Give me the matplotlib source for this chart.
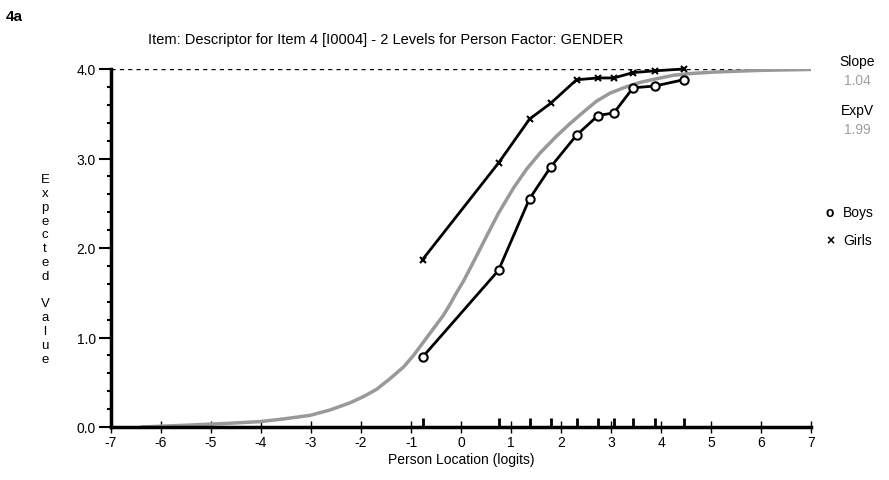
import numpy as np
import matplotlib
matplotlib.use('Agg')
import matplotlib.pyplot as plt

plt.rcParams['font.family'] = ['Liberation Sans', 'DejaVu Sans']

# class interval means (logits), shared by both groups
class_x = [-0.77, 0.75, 1.37, 1.80, 2.31, 2.74, 3.06, 3.44, 3.88, 4.45]
boys_y = [0.78, 1.75, 2.55, 2.91, 3.26, 3.48, 3.51, 3.79, 3.81, 3.88]
girls_y = [1.87, 2.95, 3.44, 3.62, 3.88, 3.90, 3.90, 3.96, 3.98, 4.00]

# expected value curve
icc_x = [-6.4, -5.5, -4.69, -4.02, -3.55, -3.02, -2.62, -2.22, -1.95, -1.69,
         -1.42, -1.15, -0.95, -0.75, -0.55, -0.35, -0.22, -0.09, 0.05, 0.18,
         0.31, 0.51, 0.75, 1.05, 1.31, 1.58, 1.91, 2.18, 2.45, 2.71,
         2.98, 3.3, 3.58, 3.9, 4.25, 4.6, 5.05, 5.5, 6.0, 6.5, 7.0]
icc_y = [0.0, 0.02, 0.04, 0.06, 0.09, 0.13, 0.19, 0.27, 0.34, 0.42,
         0.54, 0.67, 0.80, 0.95, 1.10, 1.25, 1.37, 1.50, 1.63, 1.77,
         1.91, 2.13, 2.39, 2.67, 2.88, 3.06, 3.25, 3.39, 3.52, 3.64,
         3.73, 3.80, 3.85, 3.89, 3.93, 3.95, 3.965, 3.975, 3.985, 3.99, 3.995]

slope = "1.04"
expv = "1.99"
title = "Item: Descriptor for Item 4 [I0004] - 2 Levels for Person Factor: GENDER"

fig = plt.figure(figsize=(8.89, 4.81), dpi=100)
ax = fig.add_axes([111/889, 53/481, 700/889, 358/481])

ax.plot(icc_x, icc_y, color='#999999', lw=2.5, zorder=2, solid_capstyle='butt')
ax.plot(class_x, girls_y, color='black', lw=2, marker='x', ms=5, mew=1.5,
        zorder=3, clip_on=False)
ax.plot(class_x, boys_y, color='black', lw=2, marker='o', ms=6, mfc='white',
        mew=1.5, zorder=3, clip_on=False)
ax.axhline(4.0, color='black', lw=1, ls=(0, (3, 3)), zorder=1)

# rug of class interval locations
ax.vlines(class_x, 0, 0.1, color='black', lw=2, zorder=3)

ax.set_xlim(-7, 7)
ax.set_ylim(0, 4.0)
ax.spines['top'].set_visible(False)
ax.spines['right'].set_visible(False)
ax.spines['left'].set_linewidth(2.5)
ax.spines['bottom'].set_linewidth(2.5)
ax.set_xticks(range(-7, 8))
ax.set_xticklabels([str(v) for v in range(-7, 8)])
ax.set_yticks([0, 1, 2, 3, 4])
ax.set_yticklabels(['0.0', '1.0', '2.0', '3.0', '4.0'])
ax.set_yticks([v / 5 for v in range(20) if v % 5], minor=True)
ax.tick_params(axis='x', direction='inout', length=8, width=1, labelsize=10, pad=2)
ax.tick_params(axis='y', direction='out', length=9, width=1.5, labelsize=10, pad=2)
ax.tick_params(axis='y', which='minor', direction='out', length=3, width=1.5)
ax.set_xlabel("Person Location (logits)", fontsize=10, labelpad=2)

fig.text(0.006, 0.965, "4a", fontsize=11, fontweight='bold', va='center')
fig.text(386/889, 1 - 40/481, title, fontsize=10.5, ha='center', va='center')
fig.text(45/889, 1 - 270/481, "\n".join("Expected Value"), fontsize=9.5,
         ha='center', va='center', linespacing=1.2)

fig.text(857/889, 1 - 62/481, "Slope", fontsize=10, ha='center', va='center')
fig.text(857/889, 1 - 81/481, slope, fontsize=10, ha='center', va='center', color='#a0a0a0')
fig.text(857/889, 1 - 111/481, "ExpV", fontsize=10, ha='center', va='center')
fig.text(857/889, 1 - 130/481, expv, fontsize=10, ha='center', va='center', color='#a0a0a0')
fig.text(830/889, 1 - 213/481, "o", fontsize=10, fontweight='bold', ha='center', va='center')
fig.text(843/889, 1 - 213/481, "Boys", fontsize=10, ha='left', va='center')
fig.text(830/889, 1 - 241/481, "\u00d7", fontsize=10, fontweight='bold', ha='center', va='center')
fig.text(843/889, 1 - 241/481, "Girls", fontsize=10, ha='left', va='center')

fig.savefig("out.png", dpi=100)
